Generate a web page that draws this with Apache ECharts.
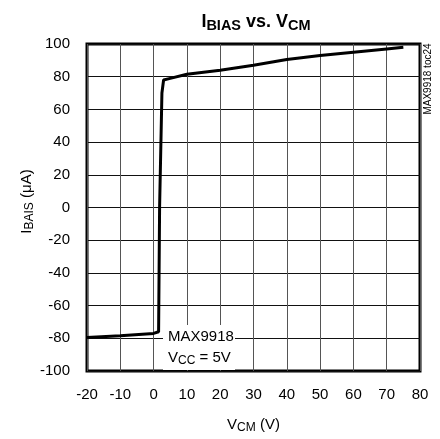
<!DOCTYPE html>
<html>
<head>
<meta charset="utf-8">
<script src="https://cdn.jsdelivr.net/npm/echarts@6/dist/echarts.min.js"></script>
<style>html,body{margin:0;padding:0;background:#fff;}#c{width:440px;height:439px;}</style>
</head>
<body>
<div id="c"></div>
<script>
var vcm   = [-20, -10, 0, 1.5, 1.8, 2.5, 3.0, 5, 10, 20, 30, 40, 50, 60, 70, 75];
var ibias = [-79.5, -78.5, -77, -76, 0, 70, 78, 79, 81.5, 84, 87, 90.5, 93, 95, 97, 98];
var xTicks = [-20, 80, 10];
var yTicks = [-100, 100, 20];

var F = 'Arial,"Liberation Sans",sans-serif';
var chart = echarts.init(document.getElementById('c'), null, {renderer: 'canvas'});
chart.setOption({
  animation: false,
  backgroundColor: '#fff',
  title: {
    text: '{a|I}{b|BIAS}{a| vs. V}{b|CM}',
    left: 251, textAlign: 'center', top: 8,
    textStyle: {
      rich: {
        a: {fontFamily: F, fontWeight: 'bold', fontSize: 18, color: '#000', verticalAlign: 'bottom'},
        b: {fontFamily: F, fontWeight: 'bold', fontSize: 14.5, color: '#000', verticalAlign: 'bottom', padding: [0,0,-2,0]}
      }
    }
  },
  grid: {left: 87, right: 20, top: 44, bottom: 67, show: true, borderColor: '#000', borderWidth: 3, backgroundColor: 'transparent'},
  xAxis: {
    type: 'value', min: xTicks[0], max: xTicks[1], interval: xTicks[2],
    axisLine: {show: false}, axisTick: {show: false},
    splitLine: {show: true, lineStyle: {color: '#555', width: 1}},
    axisLabel: {fontFamily: F, fontSize: 15, color: '#000', margin: 16},
    name: '{a|V}{b|CM}{a| (V)}', nameLocation: 'middle', nameGap: 45,
    nameTextStyle: {rich: {
      a: {fontFamily: F, fontSize: 15, color: '#000'},
      b: {fontFamily: F, fontSize: 12, color: '#000', padding: [6,0,0,0]}
    }}
  },
  yAxis: {
    type: 'value', min: yTicks[0], max: yTicks[1], interval: yTicks[2],
    axisLine: {show: false}, axisTick: {show: false},
    splitLine: {show: true, lineStyle: {color: '#111', width: 1}},
    axisLabel: {fontFamily: F, fontSize: 15, color: '#000', margin: 17},
    name: '{a|I}{b|BAIS}{a| (μA)}', nameLocation: 'middle', nameGap: 51, nameRotate: 90,
    nameMoveOverlap: false,
    nameTextStyle: {padding: [0, 0, 0, 12], rich: {
      a: {fontFamily: F, fontSize: 15, color: '#000'},
      b: {fontFamily: F, fontSize: 12, color: '#000', padding: [6,0,0,0]}
    }}
  },
  series: [{
    type: 'line', data: vcm.map(function(v, i){ return [v, ibias[i]]; }),
    showSymbol: false, symbol: 'none',
    lineStyle: {color: '#000', width: 3}, z: 5
  }],
  graphic: [
    {type: 'rect', shape: {x: 163, y: 325, width: 72, height: 45}, style: {fill: '#fff'}, z: 10},
    {type: 'text', x: 168, y: 337, style: {text: 'MAX9918', font: '15px ' + F, fill: '#000', textVerticalAlign: 'middle'}, z: 11},
    {type: 'text', x: 168, y: 358, style: {
      text: '{a|V}{b|CC}{a| = 5V}', textVerticalAlign: 'middle',
      rich: {a: {fontFamily: F, fontSize: 15, color: '#000'}, b: {fontFamily: F, fontSize: 12, color: '#000', padding: [6,0,0,0]}}
    }, z: 11},
    {type: 'text', x: 428, y: 79, rotation: Math.PI/2, style: {text: 'MAX9918 toc24', font: '10px ' + F, fill: '#000', textAlign: 'center', textVerticalAlign: 'middle'}, z: 11}
  ]
});
</script>
</body>
</html>
